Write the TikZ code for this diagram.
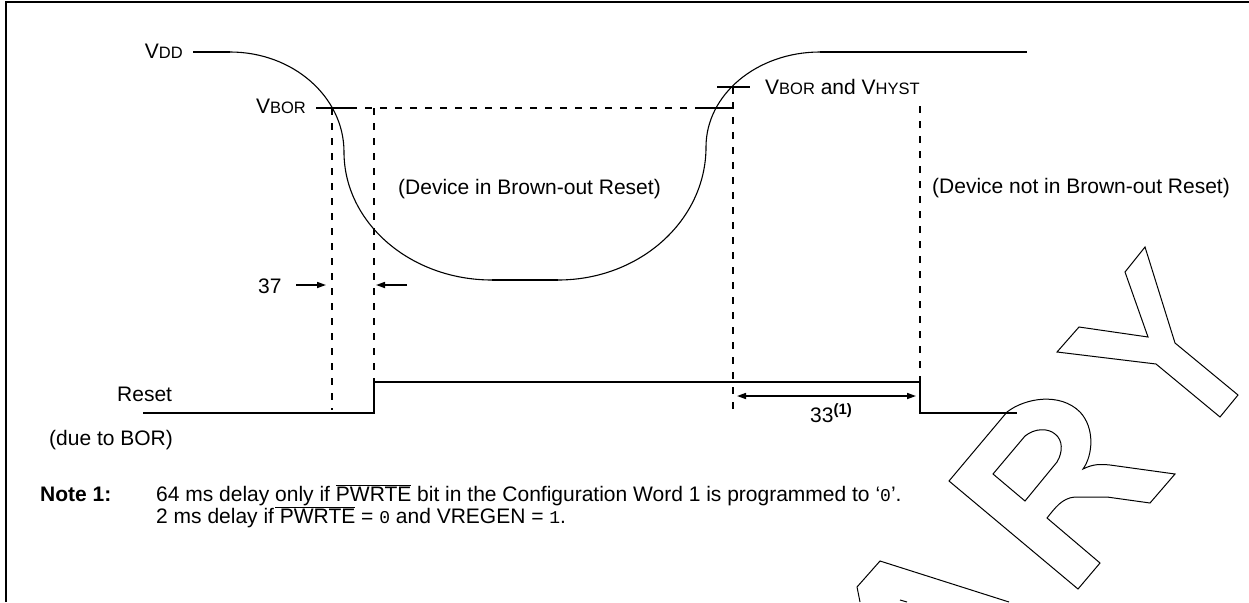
\documentclass[tikz,border=0pt]{standalone}
\usepackage{fontspec}
\setmainfont{Liberation Sans}
\newfontfamily\monofont{Liberation Mono}
\usetikzlibrary{arrows.meta}
\newcommand{\smc}[1]{{\fontsize{16.5}{19}\selectfont #1}}
\newcommand{\ovl}[1]{$\overline{\mbox{#1}}$}
\newcommand{\mn}[1]{{\monofont\fontsize{18}{21}\selectfont #1}}
\begin{document}
\begin{tikzpicture}[x=1pt,y=-1pt,
  txt/.style={inner sep=0pt, font=\fontsize{21}{25}\selectfont},
  wave/.style={line width=2pt},
  curve/.style={line width=1.1pt},
  dsh/.style={line width=2pt, dash pattern=on 7pt off 8pt},
  arr/.style={line width=1.6pt, -{Triangle[length=9pt,width=6pt]}},
  darr/.style={line width=1.6pt, {Triangle[length=9pt,width=6pt]}-{Triangle[length=9pt,width=6pt]}},
  wm/.style={line width=1pt, line join=miter}]
\useasboundingbox (0,0) rectangle (1249,602);
% frame
\draw[line width=2pt] (6,602) -- (6,2) -- (1249,2);

% VDD waveform
\coordinate (vddL) at (193,52);
\coordinate (c0) at (230,52);
\coordinate (c1) at (344,152);
\coordinate (c2) at (492,280);
\coordinate (c3) at (558,280);
\coordinate (c4) at (706,147);
\coordinate (c5) at (820,52);
\coordinate (vddR) at (1027,52);
\draw[wave] (vddL) -- (c0);
\draw[curve] (c0) .. controls (293,52) and (344,96.8) .. (c1)
  .. controls (344,222.7) and (410.3,280) .. (c2) -- (c3)
  .. controls (639.7,280) and (706,220.5) .. (c4)
  .. controls (706,94.5) and (757,52) .. (c5);
\draw[line width=1.6pt] (c2) -- (c3);
\draw[wave] (c5) -- (vddR);

% VBOR level
\coordinate (borA) at (316,108);
\coordinate (borB) at (350,108);
\coordinate (borC) at (697,108);
\coordinate (borD) at (733,108);
\draw[wave] (borA) -- (borB);
\draw[dsh] (borB) -- (borC);
\draw[wave] (borC) -- (borD);
\coordinate (hysA) at (717,87);
\coordinate (hysB) at (750,87);
\draw[wave] (hysA) -- (hysB);

% vertical dashed markers
\coordinate (d1t) at (332,108); \coordinate (d1b) at (332,410);
\coordinate (d2t) at (374,108); \coordinate (d2b) at (374,382);
\coordinate (d3t) at (733,87);  \coordinate (d3b) at (733,415);
\coordinate (d4t) at (920,106); \coordinate (d4b) at (920,382);
\draw[dsh] (d1t) -- (d1b);
\draw[dsh] (d2t) -- (d2b);
\draw[dsh] (d3t) -- (d3b);
\draw[dsh] (d4t) -- (d4b);

% Reset waveform
\coordinate (r0) at (143,413);
\coordinate (r1) at (374,413);
\coordinate (r2) at (374,382);
\coordinate (r3) at (920,382);
\coordinate (r4) at (920,413);
\coordinate (r5) at (1017,413);
\draw[wave] (r0) -- (r1) -- (r2) -- (r3) -- (r4) -- (r5);

% timing arrows
\coordinate (a1s) at (296,285); \coordinate (a1e) at (326,285);
\coordinate (a2s) at (407,285); \coordinate (a2e) at (376,285);
\draw[arr] (a1s) -- (a1e);
\draw[arr] (a2s) -- (a2e);
\coordinate (a3s) at (737,396); \coordinate (a3e) at (916,396);
\draw[darr] (a3s) -- (a3e);

% labels
\node[txt, anchor=base east] (vdd) at (183,59) {V\smc{DD}};
\node[txt, anchor=base east] (vbor) at (306,113) {V\smc{BOR}};
\node[txt, anchor=base west] (vhyst) at (765,94) {V\smc{BOR} and V\smc{HYST}};
\node[txt, anchor=base west] (inbor) at (398,194) {(Device in Brown-out Reset)};
\node[txt, anchor=base west] (notbor) at (932,193) {(Device not in Brown-out Reset)};
\node[txt, anchor=base west] (t37) at (258,293) {37};
\node[txt, anchor=base west] (reset) at (117,401) {Reset};
\node[txt, anchor=base west] (due) at (49,445) {(due to BOR)};
\node[txt, anchor=base west] (t33) at (810,422) {33\raisebox{8pt}{\fontsize{15}{18}\selectfont\bfseries (1)}};

% note
\node[txt, anchor=base west] (note) at (40,501) {\bfseries Note 1:};
\node[txt, anchor=base west] (n1) at (156,501) {64 ms delay \underline{only if} \ovl{PWRTE} bit in the Configuration Word 1 is programmed to ‘\mn{0}’.};
\node[txt, anchor=base west] (n2) at (156,523) {2 ms delay if \ovl{PWRTE} = \mn{0} and VREGEN = \mn{1}.};

% watermark (outlined letters, partly visible)
\draw[wm] (1125,272) -- (1145,247) -- (1175,343) -- (1238,395) -- (1220,417)
  -- (1156,364) -- (1057,352) -- (1079,327) -- (1148,337) -- cycle;
\draw[wm] (949,481) -- (1007,412)
  .. controls (1025,398) and (1060,392) .. (1080,412)
  .. controls (1095,428) and (1093,455) .. (1083,469)
  .. controls (1093,464) and (1100,464) .. (1110,465)
  -- (1175,474) -- (1150,503) -- (1107,497) -- (1075,497)
  .. controls (1062,498) and (1055,508) .. (1047,518)
  -- (1100,563) -- (1078,589) -- cycle;
\draw[wm] (993,474) -- (1025,501) -- (1057,462)
  .. controls (1063,452) and (1063,440) .. (1055,434)
  .. controls (1048,428) and (1035,428) .. (1025,436) -- cycle;
\draw[wm] (860,602) -- (857,587) -- (880,561) -- (1009,602);
\draw[wm] (900,600) -- (907,602);
\end{tikzpicture}
\end{document}
